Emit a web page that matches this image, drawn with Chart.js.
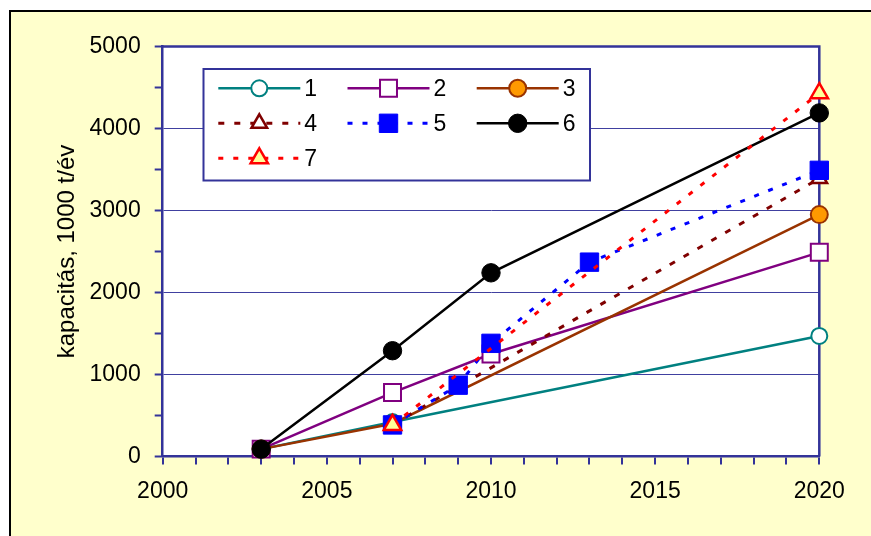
<!DOCTYPE html>
<html><head><meta charset="utf-8">
<script src="https://cdn.jsdelivr.net/npm/chart.js"></script>
<style>
html,body{margin:0;padding:0;background:#fff;overflow:hidden;width:871px;height:536px;}
#c{position:absolute;left:0;top:0;}
</style></head><body>
<canvas id="c" width="871" height="536"></canvas>
<script>
// ---- data ----
const seriesNames = ['1', '2', '3', '4', '5', '6', '7'];
const years1 = [2003, 2007, 2020];
const values1 = [90, 420, 1470];
const years2 = [2003, 2007, 2010, 2020];
const values2 = [90, 780, 1250, 2490];
const years3 = [2003, 2007, 2020];
const values3 = [90, 400, 2950];
const years4 = [2007, 2020];
const values4 = [390, 3390];
const years5 = [2007, 2009, 2010, 2013, 2020];
const values5 = [385, 870, 1380, 2370, 3490];
const years6 = [2003, 2007, 2010, 2020];
const values6 = [90, 1290, 2240, 4190];
const years7 = [2007, 2020];
const values7 = [385, 4430];
const xTickLabels = [2000, 2005, 2010, 2015, 2020];
const yTickLabels = [0, 1000, 2000, 3000, 4000, 5000];
const yTitle = 'kapacitás, 1000 t/év';

const allYears = [years1, years2, years3, years4, years5, years6, years7];
const allValues = [values1, values2, values3, values4, values5, values6, values7];

// ---- styles ----
const styles = [
  {line:'#008080', dash:[], lw:2.5, ps:'circle', pr:8, pbw:2, pbg:'#FFFFFF', pbc:'#008080'},
  {line:'#800080', dash:[], lw:2.5, ps:'rect', pr:12, pbw:2, pbg:'#FFFFFF', pbc:'#800080'},
  {line:'#993300', dash:[], lw:2.5, ps:'circle', pr:8.5, pbw:2, pbg:'#FF9900', pbc:'#993300'},
  {line:'#800000', dash:[6,10], lw:3, ps:'triangle', pr:9, pbw:2.5, pbg:'#FFFFFF', pbc:'#800000'},
  {line:'#0000FF', dash:[5,10], lw:3, ps:'rect', pr:13, pbw:1, pbg:'#0000FF', pbc:'#0000FF'},
  {line:'#000000', dash:[], lw:2.5, ps:'circle', pr:9.2, pbw:1, pbg:'#000000', pbc:'#000000'},
  {line:'#FF0000', dash:[5,10], lw:3, ps:'triangle', pr:10, pbw:2.5, pbg:'#FFFF99', pbc:'#FF0000'}
];

const FONT = 'Liberation Sans, Arial, sans-serif';
const AXIS = '#333399';
const PAGE_BG = '#FFFFCC';

const datasets = seriesNames.map((name, i) => {
  const s = styles[i];
  return {
    label: name,
    data: allYears[i].map((x, k) => ({x: x, y: allValues[i][k]})),
    showLine: true,
    borderColor: s.line,
    borderWidth: s.lw,
    borderDash: s.dash,
    pointStyle: s.ps,
    pointRadius: s.pr,
    pointHoverRadius: s.pr,
    pointBorderWidth: s.pbw,
    pointBackgroundColor: s.pbg,
    pointBorderColor: s.pbc,
    tension: 0,
    fill: false,
    clip: false,
    order: 7 - i
  };
});

const plotBg = {
  id: 'plotBg',
  beforeDraw(chart) {
    const a = chart.chartArea, ctx = chart.ctx;
    ctx.save();
    ctx.fillStyle = '#FFFFFF';
    ctx.fillRect(0, 0, chart.width, chart.height);
    ctx.fillStyle = PAGE_BG;
    ctx.fillRect(10, 11, chart.width - 10, chart.height - 11);
    ctx.strokeStyle = '#000000';
    ctx.lineWidth = 2;
    ctx.beginPath();
    ctx.moveTo(10, chart.height + 5);
    ctx.lineTo(10, 11);
    ctx.lineTo(chart.width + 5, 11);
    ctx.stroke();
    ctx.fillStyle = '#FFFFFF';
    ctx.fillRect(a.left, a.top, a.right - a.left, a.bottom - a.top);
    ctx.restore();
  },
  beforeDatasetsDraw(chart) {
    const a = chart.chartArea, ctx = chart.ctx;
    ctx.save();
    ctx.strokeStyle = AXIS;
    ctx.lineWidth = 2.5;
    ctx.beginPath();
    ctx.moveTo(a.left, a.top);
    ctx.lineTo(a.right, a.top);
    ctx.lineTo(a.right, a.bottom);
    ctx.stroke();
    ctx.restore();
  }
};

const boxLegend = {
  id: 'boxLegend',
  afterDraw(chart) {
    const ctx = chart.ctx;
    ctx.save();
    const bx = 203.5, by = 69, bw = 386.5, bh = 111.5;
    ctx.fillStyle = '#FFFFFF';
    ctx.fillRect(bx, by, bw, bh);
    ctx.lineWidth = 2;
    ctx.strokeStyle = AXIS;
    ctx.strokeRect(bx, by, bw, bh);
    chart.data.datasets.forEach((ds, i) => {
      const col = i % 3, row = Math.floor(i / 3);
      const x0 = 218.3 + col * 129.2, y = 88.3 + row * 35;
      ctx.save();
      ctx.strokeStyle = ds.borderColor;
      ctx.lineWidth = ds.borderWidth;
      ctx.setLineDash(ds.borderDash || []);
      ctx.beginPath();
      ctx.moveTo(x0, y);
      ctx.lineTo(x0 + 82, y);
      ctx.stroke();
      ctx.setLineDash([]);
      ctx.fillStyle = ds.pointBackgroundColor;
      ctx.strokeStyle = ds.pointBorderColor;
      ctx.lineWidth = ds.pointBorderWidth;
      Chart.helpers.drawPoint(ctx, {pointStyle: ds.pointStyle, radius: ds.pointRadius, borderWidth: ds.pointBorderWidth, rotation: 0}, x0 + 41, y);
      ctx.fillStyle = '#000000';
      ctx.font = '23px ' + FONT;
      ctx.textBaseline = 'middle';
      ctx.textAlign = 'left';
      ctx.fillText(ds.label, x0 + 86, y + 1);
      ctx.restore();
    });
    ctx.restore();
  }
};

new Chart(document.getElementById('c'), {
  type: 'scatter',
  data: { datasets: datasets },
  plugins: [plotBg, boxLegend],
  options: {
    responsive: false,
    animation: false,
    events: [],
    layout: { padding: { left: 0, top: 46.5, right: 51.7, bottom: 0 } },
    plugins: { legend: { display: false }, tooltip: { enabled: false }, title: { display: false } },
    scales: {
      x: {
        type: 'linear', min: 2000, max: 2020,
        ticks: {
          stepSize: 1, autoSkip: false, maxRotation: 0, padding: 13,
          font: { family: FONT, size: 23 }, color: '#000',
          callback: v => xTickLabels.includes(v) ? String(v) : ''
        },
        grid: { drawOnChartArea: false, color: AXIS, tickColor: AXIS, tickLength: 8, lineWidth: 2, tickWidth: 2 },
        border: { color: AXIS, width: 2.5 },
        afterFit: s => { s.height = 79.5; }
      },
      y: {
        type: 'linear', min: 0, max: 5000,
        ticks: {
          stepSize: 500, autoSkip: false, padding: 14,
          font: { family: FONT, size: 23 }, color: '#000',
          callback: v => yTickLabels.includes(v) ? String(v) : ''
        },
        grid: {
          color: c => (c.tick && c.tick.value % 1000 === 0) ? '#4040A0' : 'rgba(0,0,0,0)',
          tickColor: AXIS, tickLength: 8, lineWidth: 1, tickWidth: 2
        },
        border: { color: AXIS, width: 2.5 },
        title: { display: true, text: yTitle, font: { family: FONT, size: 24 }, color: '#000', padding: { top: 53, bottom: 0 } },
        afterFit: s => { s.width = 162.7; }
      }
    }
  }
});
</script>
</body></html>
